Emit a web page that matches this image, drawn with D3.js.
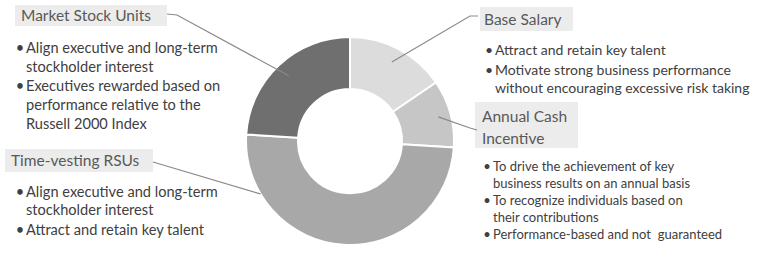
<!DOCTYPE html>
<html>
<head>
<meta charset="utf-8">
<script src="https://cdn.jsdelivr.net/npm/d3@7"></script>
<style>
  body { margin: 0; background: #fff; }
  svg { display: block; font-family: Lato, "Open Sans", sans-serif; }
  text { white-space: pre; }
</style>
</head>
<body>
<svg id="chart"></svg>
<script>
// pay mix slices, clockwise from 12 o'clock
const components = ['Base Salary', 'Annual Cash Incentive', 'Time-vesting RSUs', 'Market Stock Units'];
const shares = [15.5, 10.5, 50, 24];
const sliceColors = ['#dcdcdc', '#c6c6c6', '#a8a8a8', '#6f6f6f'];

// callout text
const headers = [['Base Salary'], ['Annual Cash', 'Incentive'], ['Time-vesting RSUs'], ['Market Stock Units']];
const bullets = [
  [['Attract and retain key talent'],
   ['Motivate strong business performance', 'without encouraging excessive risk taking']],
  [['To drive the achievement of key', 'business results on an annual basis'],
   ['To recognize individuals based on', 'their contributions'],
   ['Performance-based and not  guaranteed']],
  [['Align executive and long-term', 'stockholder interest'],
   ['Attract and retain key talent']],
  [['Align executive and long-term', 'stockholder interest'],
   ['Executives rewarded based on', 'performance relative to the', 'Russell 2000 Index']]
];

const width = 767, height = 257;
const cx = 350, cy = 141, rOuter = 104, rInner = 52;

const svg = d3.select('#chart')
  .attr('width', width)
  .attr('height', height);

const pie = d3.pie().sort(null).value(d => d);
const arc = d3.arc().innerRadius(rInner).outerRadius(rOuter);
const arcs = pie(shares);

const g = svg.append('g').attr('transform', `translate(${cx},${cy})`);
g.selectAll('path')
  .data(arcs)
  .join('path')
  .attr('d', arc)
  .attr('fill', (d, i) => sliceColors[i])
  .attr('stroke', '#fff')
  .attr('stroke-width', 2);

// callout layout: box rect, header origin, bullet column, leader line
// leader.t = where along the slice the line lands (0 start .. 1 end), r = depth in ring
const callouts = [
  {box: [480, 7, 93, 24], tx: 484, ty: 25, bx: 489, by: 55, lh: 18, gap: 2, fs: 14,
   leader: {pts: [[478, 16], [470, 16]], t: 0.5, r: 0.72}},
  {box: [475, 102, 103, 46], tx: 482, ty: 122, bx: 487, by: 171, lh: 16.5, gap: 1, fs: 13,
   leader: {pts: [[477, 130], [470, 128]], t: 0.5, r: 0.76}},
  {box: [5, 149, 148, 23], tx: 11, ty: 166, bx: 20, by: 197, lh: 18, gap: 2, fs: 14.6,
   leader: {pts: [[153, 162]], t: 0.81, r: 1.0}},
  {box: [15, 5, 152, 21], tx: 21, ty: 21, bx: 20, by: 53, lh: 19, gap: 0, fs: 14.6,
   leader: {pts: [[167, 14], [177, 15]], t: 0.5, r: 0.72}}
];

const headerFont = 15.5;

callouts.forEach((c, i) => {
  const grp = svg.append('g');
  grp.append('rect')
    .attr('x', c.box[0]).attr('y', c.box[1])
    .attr('width', c.box[2]).attr('height', c.box[3])
    .attr('fill', '#ececec');
  headers[i].forEach((line, j) => {
    grp.append('text')
      .attr('x', c.tx).attr('y', c.ty + j * 22)
      .attr('font-size', headerFont)
      .attr('fill', '#595959')
      .text(line);
  });
  let y = c.by;
  bullets[i].forEach(item => {
    grp.append('text')
      .attr('x', c.bx).attr('y', y)
      .attr('font-size', c.fs)
      .attr('text-anchor', 'middle')
      .attr('fill', '#404040')
      .text('•');
    item.forEach(line => {
      grp.append('text')
        .attr('x', c.bx + 6).attr('y', y)
        .attr('font-size', c.fs)
        .attr('fill', '#404040')
        .text(line);
      y += c.lh;
    });
    y += c.gap;
  });

  // leader line into slice
  const a = arcs[i];
  const ang = a.startAngle + (a.endAngle - a.startAngle) * c.leader.t;
  const rr = rInner + (rOuter - rInner) * c.leader.r;
  const end = [cx + Math.sin(ang) * rr, cy - Math.cos(ang) * rr];
  svg.append('path')
    .attr('d', d3.line()([...c.leader.pts, end]))
    .attr('fill', 'none')
    .attr('stroke', '#8a8a8a')
    .attr('stroke-width', 1.2);
});
</script>
</body>
</html>
